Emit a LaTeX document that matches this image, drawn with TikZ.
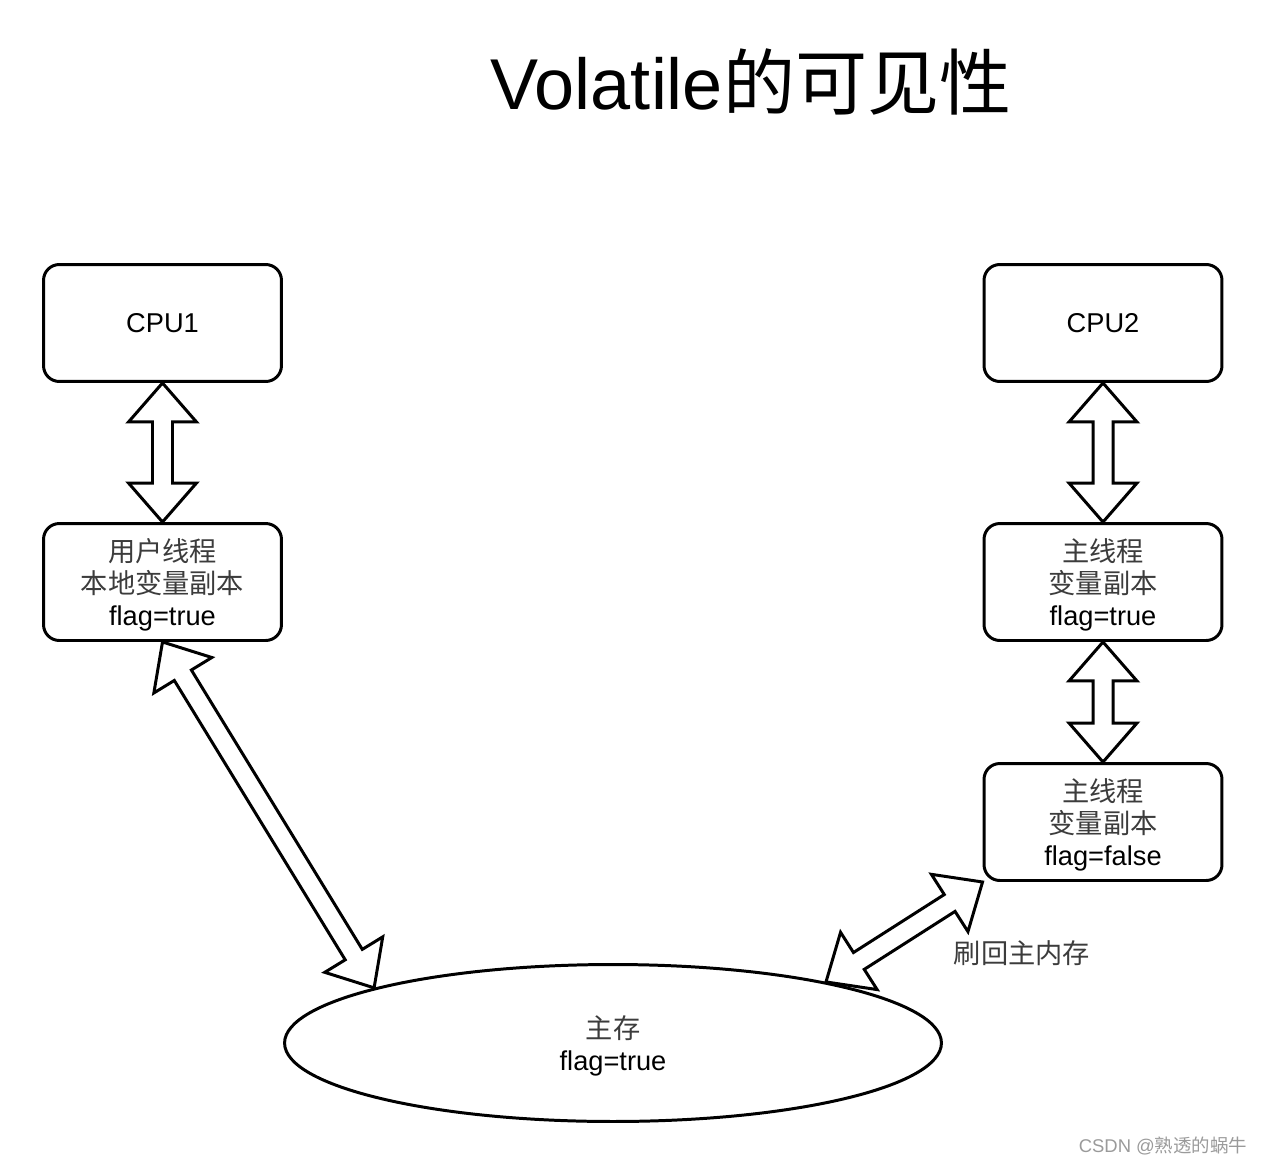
\documentclass[tikz,border=0pt]{standalone}
\usepackage{fontspec}
\setmainfont{Liberation Sans}
\newfontfamily\cjk{Noto Sans CJK SC}
\usetikzlibrary{calc, shapes.geometric}
\definecolor{box-border}{HTML}{000000}
\definecolor{cjk-text}{HTML}{3C3C3C}
\definecolor{mark-text}{HTML}{9A9A9A}
\newcommand{\zh}[1]{{\cjk\color{cjk-text}#1}}
\tikzset{
  cpu-box/.style={
    draw=box-border, fill=white, line width=1.7pt, rounded corners=9pt,
    minimum width=4.76cm, minimum height=2.34cm, inner sep=0pt, align=center,
    text depth=0pt, font=\fontsize{15.5}{18.1}\selectfont
  },
  mem-node/.style={
    ellipse, draw=box-border, line width=1.7pt,
    minimum width=13.14cm, minimum height=3.14cm, inner sep=0pt, align=center,
    text depth=0pt, font=\fontsize{15.5}{18.1}\selectfont
  },
  link-arrow/.style={draw=box-border, fill=white, line width=1.7pt, line join=miter}
}
% hollow double-headed block arrow between two points
\newcommand{\linkarrow}[2]{%
  \coordinate (ha) at ($(#1)!0.78cm!(#2)$);
  \coordinate (hb) at ($(#2)!0.78cm!(#1)$);
  \draw[link-arrow] (#1) -- ($(ha)!0.68cm!90:(#2)$) -- ($(ha)!0.2cm!90:(#2)$)
    -- ($(hb)!0.2cm!-90:(#1)$) -- ($(hb)!0.68cm!-90:(#1)$) -- (#2)
    -- ($(hb)!0.68cm!90:(#1)$) -- ($(hb)!0.2cm!90:(#1)$)
    -- ($(ha)!0.2cm!-90:(#2)$) -- ($(ha)!0.68cm!-90:(#2)$) -- cycle;
}

\begin{document}
\begin{tikzpicture}[x=0.02cm, y=-0.02cm]
  \useasboundingbox (0,0) rectangle (1264,1166);

  \node[font=\fontsize{41}{46}\selectfont] (title) at (751,82) {Volatile{\cjk 的可见性}};

  \node[cpu-box] (cpu1)    at (162.5,323) {CPU1};
  \node[cpu-box] (user)    at (162.5,582) {\zh{用户线程}\\\zh{本地变量副本}\\flag=true};
  \node[cpu-box] (cpu2)    at (1103,323)  {CPU2};
  \node[cpu-box] (mainold) at (1103,582)  {\zh{主线程}\\\zh{变量副本}\\flag=true};
  \node[cpu-box] (mainnew) at (1103,822)  {\zh{主线程}\\\zh{变量副本}\\flag=false};
  \node[mem-node] (mem)    at (613,1043)  {\zh{主存}\\flag=true};

  \linkarrow{cpu1.south}{user.north}
  \linkarrow{user.south}{mem.167}
  \linkarrow{cpu2.south}{mainold.north}
  \linkarrow{mainold.south}{mainnew.north}
  \linkarrow{mem.16}{mainnew.south west}

  \node[font=\fontsize{15.5}{18.1}\selectfont] (flush) at (1022,953) {\zh{刷回主内存}};
  \node[font=\fontsize{10.5}{12}\selectfont, text=mark-text] (mark) at (1163,1146) {CSDN @{\cjk 熟透的蜗牛}};
\end{tikzpicture}
\end{document}
